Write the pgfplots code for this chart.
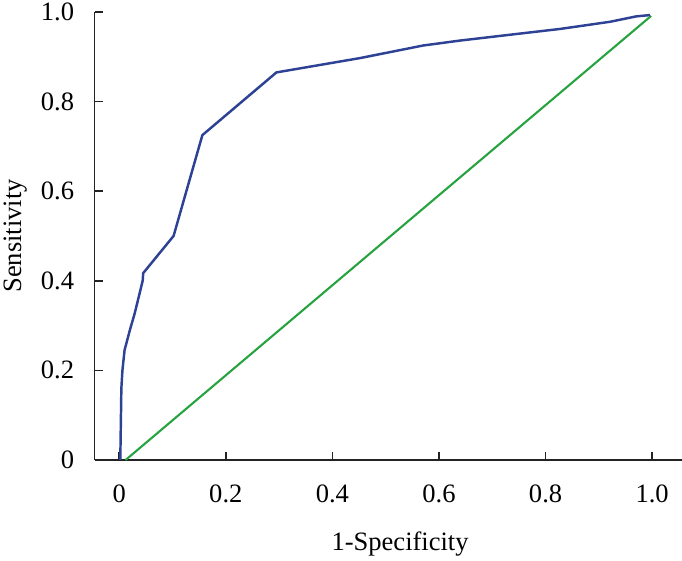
\documentclass[border=0pt]{standalone}
\usepackage{fontspec}
\setmainfont{Liberation Serif}
\usepackage{pgfplots}
\pgfplotsset{compat=1.18}
\definecolor{rocblue}{RGB}{45,66,148}
\definecolor{rocgreen}{RGB}{38,162,62}
\definecolor{axisgray}{RGB}{35,35,35}
\begin{document}
\begin{tikzpicture}
\fontsize{14}{16}\selectfont
\begin{axis}[
    at={(0,0)}, anchor=south west,
    scale only axis,
    width=310pt, height=236.5pt,
    xmin=-0.046, xmax=1.056,
    ymin=0, ymax=1,
    axis lines*=left,
    axis line style={axisgray, line width=0.8pt},
    every tick/.style={axisgray, line width=0.8pt},
    major tick length=4.2pt,
    tick align=inside,
    xtick={0,0.2,0.4,0.6,0.8,1.0},
    xticklabels={0,0.2,0.4,0.6,0.8,1.0},
    ytick={0,0.2,0.4,0.6,0.8,1.0},
    yticklabels={0,0.2,0.4,0.6,0.8,1.0},
    x tick label style={yshift=-8.5pt},
    y tick label style={xshift=-6pt},
    xlabel={1-Specificity},
    ylabel={Sensitivity},
    xlabel style={at={(axis description cs:0.52,0)}, anchor=north, yshift=-33pt},
    ylabel style={at={(axis description cs:-0.10,0.5)}, anchor=south},
    clip=false,
]
% reference diagonal
\addplot[rocgreen, line width=1.1pt] coordinates {(0.012,0) (0.998,0.991)};
% ROC curve
\addplot[rocblue, line width=1.3pt] coordinates {
    (0.002,0) (0.004,0.16) (0.006,0.20) (0.01,0.245) (0.02,0.29) (0.029,0.327)
    (0.044,0.40) (0.045,0.417) (0.102,0.50) (0.156,0.725) (0.295,0.865)
    (0.452,0.897) (0.57,0.925) (0.639,0.936) (0.74,0.95) (0.827,0.962)
    (0.921,0.978) (0.97,0.99) (0.996,0.993)
};
\end{axis}
\pgfresetboundingbox
\path[use as bounding box] (-50pt,-53pt) rectangle (310pt,242.8pt);
\end{tikzpicture}
\end{document}
